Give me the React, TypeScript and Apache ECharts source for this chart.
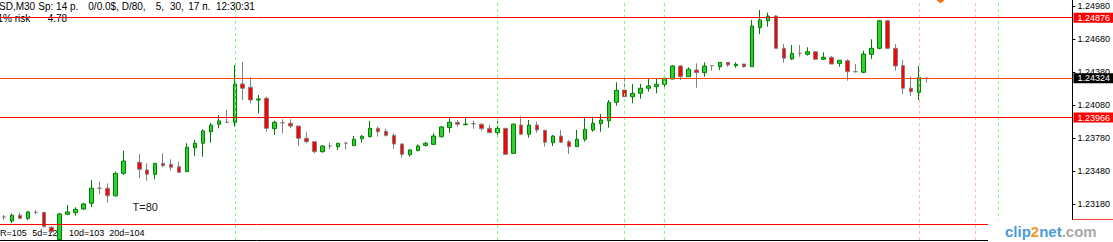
import React, { useEffect, useRef } from "react";
import * as echarts from "echarts";

const WIDTH = 1113;
const HEIGHT = 242;

// Visible price range of the chart window
const PRICE_MIN = 1.228506;
const PRICE_MAX = 1.25037;

// Price scale tick labels
const priceTicks = [1.2318, 1.2348, 1.2378, 1.2408, 1.2438, 1.2468, 1.2498];

// Horizontal price levels: value, line colour, label box colour
const levelValues = [1.24876, 1.24324, 1.23966, 1.22994];
const levelLineColors = ["#FF0000", "#FF4500", "#FF0000", "#FF0000"];
const levelBoxColors = ["#FF0000", "#000000", "#FF0000", "#FF0000"];

// M30 bars: [open, close, low, high]
const bars: (number | string)[][] = [
  [1.2306, 1.2306, 1.23033, 1.23078],
  [1.23024, 1.23076, 1.23006, 1.23092],
  [1.23076, 1.23048, 1.23039, 1.23099],
  [1.23047, 1.23106, 1.23033, 1.23115],
  [1.23103, 1.23103, 1.23081, 1.23124],
  [1.23101, 1.22972, 1.22966, 1.23108],
  [1.22966, 1.22926, 1.22914, 1.22978],
  [1.22855, 1.23088, 1.22851, 1.23099],
  [1.23085, 1.23106, 1.23078, 1.23169],
  [1.23099, 1.2313, 1.23072, 1.23149],
  [1.23133, 1.23179, 1.23124, 1.2319],
  [1.23185, 1.23322, 1.23149, 1.23397],
  [1.23322, 1.23322, 1.2327, 1.23382],
  [1.23322, 1.23254, 1.2319, 1.23367],
  [1.23254, 1.23458, 1.23245, 1.23473],
  [1.23458, 1.2357, 1.23443, 1.23664],
  ["-", "-", "-", "-"],
  [1.23558, 1.23495, 1.23413, 1.23634],
  [1.23488, 1.23449, 1.23391, 1.23549],
  [1.23449, 1.23549, 1.23404, 1.23549],
  [1.23549, 1.23528, 1.23513, 1.2364],
  [1.2354, 1.23513, 1.23482, 1.23586],
  [1.23518, 1.23467, 1.23464, 1.23564],
  [1.23473, 1.23695, 1.23473, 1.23732],
  [1.23691, 1.23732, 1.23616, 1.23762],
  [1.23732, 1.23844, 1.23609, 1.23859],
  [1.23837, 1.23898, 1.23737, 1.23919],
  [1.23905, 1.23935, 1.23868, 1.23989],
  [1.23923, 1.23923, 1.23923, 1.24035],
  [1.23923, 1.24272, 1.23883, 1.24445],
  [1.24272, 1.24233, 1.24126, 1.24472],
  [1.24242, 1.24126, 1.24096, 1.24333],
  [1.24126, 1.24135, 1.24005, 1.24172],
  [1.24142, 1.23868, 1.23837, 1.24156],
  [1.23865, 1.23923, 1.23807, 1.23937],
  [1.23919, 1.23919, 1.23823, 1.2395],
  [1.23914, 1.23889, 1.23868, 1.2395],
  [1.23889, 1.23777, 1.2371, 1.23889],
  [1.23777, 1.23746, 1.23732, 1.23832],
  [1.23746, 1.23655, 1.2364, 1.23746],
  [1.23655, 1.23707, 1.23646, 1.23716],
  [1.23707, 1.23707, 1.23677, 1.23737],
  [1.23701, 1.23732, 1.23671, 1.23732],
  [1.23732, 1.23732, 1.23677, 1.23746],
  [1.2371, 1.23768, 1.2371, 1.23798],
  [1.23773, 1.23795, 1.23737, 1.23807],
  [1.23792, 1.23868, 1.23786, 1.23935],
  [1.23868, 1.23837, 1.23792, 1.23883],
  [1.23841, 1.23804, 1.23792, 1.23862],
  [1.23804, 1.23725, 1.23682, 1.23823],
  [1.23725, 1.23631, 1.236, 1.23732],
  [1.23628, 1.23671, 1.23609, 1.23677],
  [1.23664, 1.23707, 1.23661, 1.23722],
  [1.23713, 1.23732, 1.23701, 1.23746],
  [1.23722, 1.23798, 1.23716, 1.23823],
  [1.23792, 1.2388, 1.23783, 1.23889],
  [1.23874, 1.23923, 1.23828, 1.23968],
  [1.23923, 1.23905, 1.23883, 1.23944],
  [1.23901, 1.23907, 1.23896, 1.23968],
  [1.2391, 1.2391, 1.23865, 1.23937],
  [1.23905, 1.23865, 1.23846, 1.23914],
  [1.23868, 1.23828, 1.23828, 1.23898],
  [1.23828, 1.23868, 1.23807, 1.23937],
  [1.23868, 1.23631, 1.23631, 1.23868],
  [1.2364, 1.23907, 1.2364, 1.23907],
  [1.23898, 1.23814, 1.23807, 1.2398],
  [1.23814, 1.23898, 1.23783, 1.23944],
  [1.23898, 1.23853, 1.23828, 1.23928],
  [1.2385, 1.23741, 1.23701, 1.2385],
  [1.23737, 1.23798, 1.23707, 1.23807],
  [1.23798, 1.23741, 1.23732, 1.23853],
  [1.23746, 1.23701, 1.23634, 1.23762],
  [1.23701, 1.23768, 1.23701, 1.23853],
  [1.23768, 1.23859, 1.23746, 1.23974],
  [1.23853, 1.23914, 1.23837, 1.23974],
  [1.2391, 1.23944, 1.23837, 1.23999],
  [1.23937, 1.24105, 1.23874, 1.24126],
  [1.24105, 1.24214, 1.24074, 1.24287],
  [1.24217, 1.24156, 1.24156, 1.24345],
  [1.24156, 1.24187, 1.24096, 1.24272],
  [1.24187, 1.24233, 1.24138, 1.24272],
  [1.24233, 1.24254, 1.24202, 1.24324],
  [1.24247, 1.24269, 1.24187, 1.24317],
  [1.24269, 1.24324, 1.24238, 1.24338],
  [1.24317, 1.24436, 1.24315, 1.24445],
  [1.24436, 1.24338, 1.24308, 1.24445],
  [1.24338, 1.24406, 1.24338, 1.24424],
  [1.24399, 1.24375, 1.24238, 1.2446],
  [1.24375, 1.24436, 1.24338, 1.24469],
  [1.24439, 1.24439, 1.24393, 1.24445],
  [1.24429, 1.24469, 1.24399, 1.24469],
  [1.24469, 1.24445, 1.24429, 1.24469],
  [1.24439, 1.24451, 1.2442, 1.24469],
  [1.24454, 1.24429, 1.2442, 1.24454],
  [1.24429, 1.248, 1.24429, 1.24855],
  [1.24785, 1.24855, 1.24725, 1.24946],
  [1.24848, 1.24891, 1.24794, 1.24921],
  [1.24891, 1.24597, 1.24597, 1.249],
  [1.24597, 1.24506, 1.24466, 1.24636],
  [1.245, 1.24551, 1.2449, 1.24627],
  [1.24551, 1.24551, 1.2452, 1.24627],
  [1.24542, 1.24566, 1.2453, 1.24606],
  [1.24566, 1.24497, 1.24497, 1.24566],
  [1.24497, 1.24515, 1.2449, 1.24561],
  [1.24515, 1.24454, 1.24454, 1.24527],
  [1.2446, 1.24488, 1.24429, 1.24488],
  [1.24484, 1.24384, 1.24302, 1.24497],
  [1.24384, 1.24384, 1.24375, 1.24454],
  [1.24378, 1.24545, 1.24369, 1.24575],
  [1.24542, 1.24597, 1.245, 1.24679],
  [1.24597, 1.24848, 1.24588, 1.24855],
  [1.24848, 1.24597, 1.24588, 1.24855],
  [1.24597, 1.24436, 1.24393, 1.24636],
  [1.24439, 1.24233, 1.24178, 1.2449],
  [1.24233, 1.24202, 1.24165, 1.24338],
  [1.24196, 1.24333, 1.24126, 1.24436],
  [1.24324, 1.24324, 1.24284, 1.24329],
];

// Bar slots on the time axis (bar numbers), incl. empty future slots
const BAR_SLOTS = 135;
const categories = Array.from({ length: BAR_SLOTS }, (_, i) => String(i + 1));

// Vertical separators (by bar number)
const greenSeparators = ["30", "63", "79", "84", "126"];
const pinkSeparators = ["116", "123"];

// Texts
const headerSegments = ["SD,M30", "Sp: 14 p.", "0/0.0$, D/80,", "5,", "30,", "17 п.", "12:30:31"];
const riskTexts = ["1% risk", "4.78"];
const statTexts = ["R=105", "5d=127", "10d=103", "20d=104"];
const timerText = "T=80";

const FONT = '"Liberation Sans", Arial, sans-serif';

export default function App() {
  const ref = useRef<HTMLDivElement>(null);

  useEffect(() => {
    if (!ref.current) return;
    const chart = echarts.init(ref.current, null, { renderer: "svg" });

    const headerX = [-1, 38.3, 88.3, 155.7, 170, 188.3, 216];
    const riskX = [-2.5, 47.7];
    const statX = [0, 32.3, 69, 109.3];

    const sepLine = (name: string, color: string) => ({
      xAxis: name,
      lineStyle: { color, type: [3, 3], width: 1 },
    });

    const option: any = {
      animation: false,
      backgroundColor: "#FFFFFF",
      grid: [
        { left: -5.7, top: 0, width: 8 * BAR_SLOTS, height: 240 },
        { left: 0, top: 0, right: 36.3, height: 240 },
      ],
      xAxis: [
        {
          type: "category",
          gridIndex: 0,
          data: categories,
          boundaryGap: true,
          show: false,
        },
        {
          type: "value",
          gridIndex: 1,
          min: 0,
          max: 1,
          axisLine: { show: true, onZero: false, lineStyle: { color: "#000000", width: 1 } },
          axisTick: { show: false },
          axisLabel: { show: false },
          splitLine: { show: false },
        },
      ],
      yAxis: [
        { type: "value", gridIndex: 0, min: PRICE_MIN, max: PRICE_MAX, show: false },
        {
          type: "value",
          gridIndex: 1,
          min: PRICE_MIN,
          max: PRICE_MAX,
          position: "right",
          axisLine: { show: true, onZero: false, lineStyle: { color: "#000000", width: 1 } },
          axisTick: {
            show: true,
            inside: false,
            length: 3,
            customValues: priceTicks,
            lineStyle: { color: "#000000" },
          },
          axisLabel: {
            show: true,
            customValues: priceTicks,
            formatter: (v: number) => v.toFixed(5),
            color: "#000000",
            fontSize: 9,
            fontFamily: FONT,
            margin: 5,
          },
          splitLine: { show: false },
        },
      ],
      series: [
        {
          type: "candlestick",
          xAxisIndex: 0,
          yAxisIndex: 0,
          data: bars,
          barWidth: 4,
          emphasis: { disabled: true },
          itemStyle: {
            color: "#32CD32",
            color0: "#FF0000",
            borderColor: "#008000",
            borderColor0: "#808080",
            borderColorDoji: "#808080",
            borderWidth: 1,
          },
          markLine: {
            silent: true,
            symbol: ["none", "none"],
            label: { show: false },
            emphasis: { disabled: true },
            data: [
              ...greenSeparators.map((n) => sepLine(n, "#7CFF7C")),
              ...pinkSeparators.map((n) => sepLine(n, "#FFB6C1")),
            ],
          },
        },
        {
          type: "line",
          xAxisIndex: 1,
          yAxisIndex: 1,
          data: [],
          markLine: {
            silent: true,
            precision: 5,
            symbol: ["none", "none"],
            emphasis: { disabled: true },
            data: levelValues.map((v, i) => ({
              yAxis: v,
              lineStyle: { color: levelLineColors[i], type: "solid", width: 1 },
              label: {
                show: true,
                position: "end",
                distance: 1,
                formatter: () => v.toFixed(5),
                color: "#FFFFFF",
                backgroundColor: levelBoxColors[i],
                fontSize: 9,
                fontFamily: FONT,
                lineHeight: 9,
                padding: [1, 12, 0, 4],
              },
            })),
          },
        },
      ],
      graphic: [
        ...headerSegments.map((t, i) => ({
          type: "text",
          x: headerX[i],
          y: 6.4,
          z: 1,
          style: { text: t, font: `10px ${FONT}`, fill: "#000000", verticalAlign: "middle" },
        })),
        ...riskTexts.map((t, i) => ({
          type: "text",
          x: riskX[i],
          y: 18,
          z: 1,
          style: { text: t, font: `10px ${FONT}`, fill: "#000000", verticalAlign: "middle" },
        })),
        ...statTexts.map((t, i) => ({
          type: "text",
          x: statX[i],
          y: 232.5,
          z: 1,
          style: { text: t, font: `9px ${FONT}`, fill: "#000000", verticalAlign: "middle" },
        })),
        {
          type: "text",
          x: 132.5,
          y: 206.5,
          z: 1,
          style: { text: timerText, font: `11px ${FONT}`, fill: "#1A1A1A", verticalAlign: "middle" },
        },
        {
          type: "polygon",
          z: 50,
          shape: { points: [[936.5, 0], [944.5, 0], [940.5, 3.5]] },
          style: { fill: "#FF6A13" },
        },
        {
          type: "rect",
          z: 100,
          shape: { x: 988, y: 220, width: 125, height: 22 },
          style: { fill: "#FFFFFF" },
        },
        {
          type: "text",
          x: 1005,
          y: 231,
          z: 101,
          style: {
            text: "{a|clip}{b|2}{a|net}{c|.com}",
            verticalAlign: "middle",
            rich: {
              a: { fontSize: 15, fontWeight: "bold", fontFamily: FONT, fill: "#4A9BDB", color: "#4A9BDB" },
              b: { fontSize: 15, fontWeight: "bold", fontFamily: FONT, fill: "#F39A1E", color: "#F39A1E" },
              c: { fontSize: 15, fontWeight: "bold", fontFamily: FONT, fill: "#A9A9A9", color: "#A9A9A9" },
            },
          },
        },
      ],
    };

    chart.setOption(option);
    return () => chart.dispose();
  }, []);

  return (
    <div
      ref={ref}
      style={{ position: "fixed", left: 0, top: 0, width: WIDTH, height: HEIGHT, background: "#FFFFFF" }}
    />
  );
}
